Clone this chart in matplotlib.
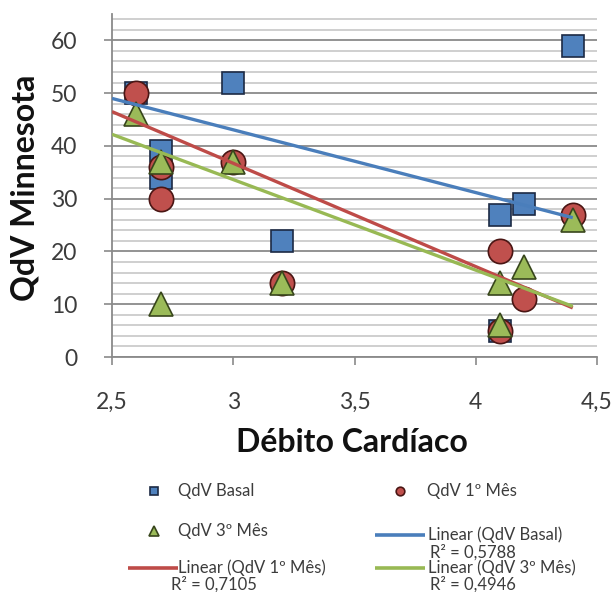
import matplotlib
matplotlib.use("Agg")
import matplotlib.pyplot as plt
from matplotlib.ticker import MultipleLocator, FixedLocator, FixedFormatter

plt.rcParams['font.family'] = ['Lato', 'DejaVu Sans']

# Cardiac output of each patient and quality-of-life scores at three moments
debito = [2.6, 2.7, 2.7, 3.0, 3.2, 4.1, 4.1, 4.2, 4.4]
qdv_basal = [50, 39, 34, 52, 22, 27, 5, 29, 59]
qdv_mes1 = [50, 36, 30, 37, 14, 20, 5, 11, 27]
qdv_mes3 = [46, 37, 10, 37, 14, 14, 6, 17, 26]

# Linear trend lines (values at the start and end of the fitted range)
trend_x = [2.5, 4.4]
trend_basal = [49.0, 26.4]
trend_mes1 = [46.5, 9.3]
trend_mes3 = [42.2, 9.6]

series_names = ['QdV Basal', 'QdV 1º Mês', 'QdV 3º Mês']
trend_names = ['Linear (QdV Basal)', 'Linear (QdV 1º Mês)', 'Linear (QdV 3º Mês)']
r2_labels = ['R² = 0,5788', 'R² = 0,7105', 'R² = 0,4946']
x_ticks = [2.5, 3.0, 3.5, 4.0, 4.5]
x_tick_labels = ['2,5', '3', '3,5', '4', '4,5']
y_ticks = [0, 10, 20, 30, 40, 50, 60]

fill_colors = ['#4f81bd', '#c0504d', '#9bbb59']
edge_colors = ['#1c2a44', '#4a1614', '#38461c']
line_colors = ['#4a7ebb', '#be4b48', '#98b954']
axis_gray = '#8a8a8a'
text_gray = '#3c3c3c'

W, H = 615, 592
fig = plt.figure(figsize=(W / 100, H / 100), dpi=100)
ax = fig.add_axes([112 / W, 1 - 357 / H, 485 / W, 343 / H])

ax.set_xlim(2.5, 4.5)
ax.set_ylim(0, 65)

# gridlines: major every 10, minor every 2
ax.yaxis.set_major_locator(FixedLocator(y_ticks))
ax.yaxis.set_minor_locator(MultipleLocator(2))
ax.grid(which='major', axis='y', color=axis_gray, lw=1.3, zorder=0)
ax.grid(which='minor', axis='y', color='#c2c2c2', lw=1.1, zorder=0)
ax.set_axisbelow(True)

ax.xaxis.set_major_locator(FixedLocator(x_ticks))
ax.xaxis.set_major_formatter(FixedFormatter(x_tick_labels))

for side in ('top', 'right'):
    ax.spines[side].set_visible(False)
for side in ('left', 'bottom'):
    ax.spines[side].set_color(axis_gray)
    ax.spines[side].set_linewidth(1.3)

ax.tick_params(which='major', direction='out', length=6, width=1.2,
               color=axis_gray, labelsize=16.5, labelcolor=text_gray)
ax.tick_params(axis='y', which='major', pad=19)
ax.tick_params(axis='x', which='major', pad=19)
ax.tick_params(which='minor', length=0)

# scatter series
ax.plot(debito, qdv_basal, linestyle='none', marker='s', ms=16.5,
        mfc=fill_colors[0], mec=edge_colors[0], mew=1.2, zorder=3)
ax.plot(debito, qdv_mes1, linestyle='none', marker='o', ms=17.5,
        mfc=fill_colors[1], mec=edge_colors[1], mew=1.2, zorder=4)
ax.plot(debito, qdv_mes3, linestyle='none', marker='^', ms=17.5,
        mfc=fill_colors[2], mec=edge_colors[2], mew=1.2, zorder=5)

# trend lines above the markers
ax.plot(trend_x, trend_basal, color=line_colors[0], lw=2.4, zorder=6,
        solid_capstyle='butt')
ax.plot(trend_x, trend_mes1, color=line_colors[1], lw=2.4, zorder=7,
        solid_capstyle='butt')
ax.plot(trend_x, trend_mes3, color=line_colors[2], lw=2.4, zorder=8,
        solid_capstyle='butt')

fig.text(25 / W, 1 - 188 / H, 'QdV Minnesota', rotation=90, ha='center',
         va='center', fontsize=23, fontweight='bold', color='#111111')
fig.text(352 / W, 1 - 443 / H, 'Débito Cardíaco', ha='center', va='center',
         fontsize=23, fontweight='bold', color='#111111')

# legend, laid out in pixel coordinates on an overlay
lg = fig.add_axes([0, 0, 1, 1], facecolor='none')
lg.set_xlim(0, W)
lg.set_ylim(H, 0)
lg.axis('off')

leg_fs = 12
lg.plot([154], [491], marker='s', ms=5.8, mfc=fill_colors[0], mec=edge_colors[0], mew=1.2)
lg.text(178, 491, series_names[0], fontsize=leg_fs, color=text_gray, va='center')
lg.plot([400], [491], marker='o', ms=6.2, mfc=fill_colors[1], mec=edge_colors[1], mew=1.2)
lg.text(427, 491, series_names[1], fontsize=leg_fs, color=text_gray, va='center')
lg.plot([154], [531], marker='^', ms=6.5, mfc=fill_colors[2], mec=edge_colors[2], mew=1.2)
lg.text(178, 531, series_names[2], fontsize=leg_fs, color=text_gray, va='center')

legend_lines = [
    (375, 425, 535, 428, 473, 552, 0),
    (128, 178, 568, 178, 214, 584, 1),
    (375, 425, 568, 428, 473, 584, 2),
]
for x0, x1, yl, xt, xr, yr, i in legend_lines:
    lg.plot([x0, x1], [yl, yl], color=line_colors[i], lw=2.6, solid_capstyle='butt')
    lg.text(xt, yl, trend_names[i], fontsize=leg_fs, color=text_gray, va='center')
    lg.text(xr, yr, r2_labels[i], fontsize=leg_fs, color=text_gray, va='center', ha='center')

fig.savefig('out.png', dpi=100)
